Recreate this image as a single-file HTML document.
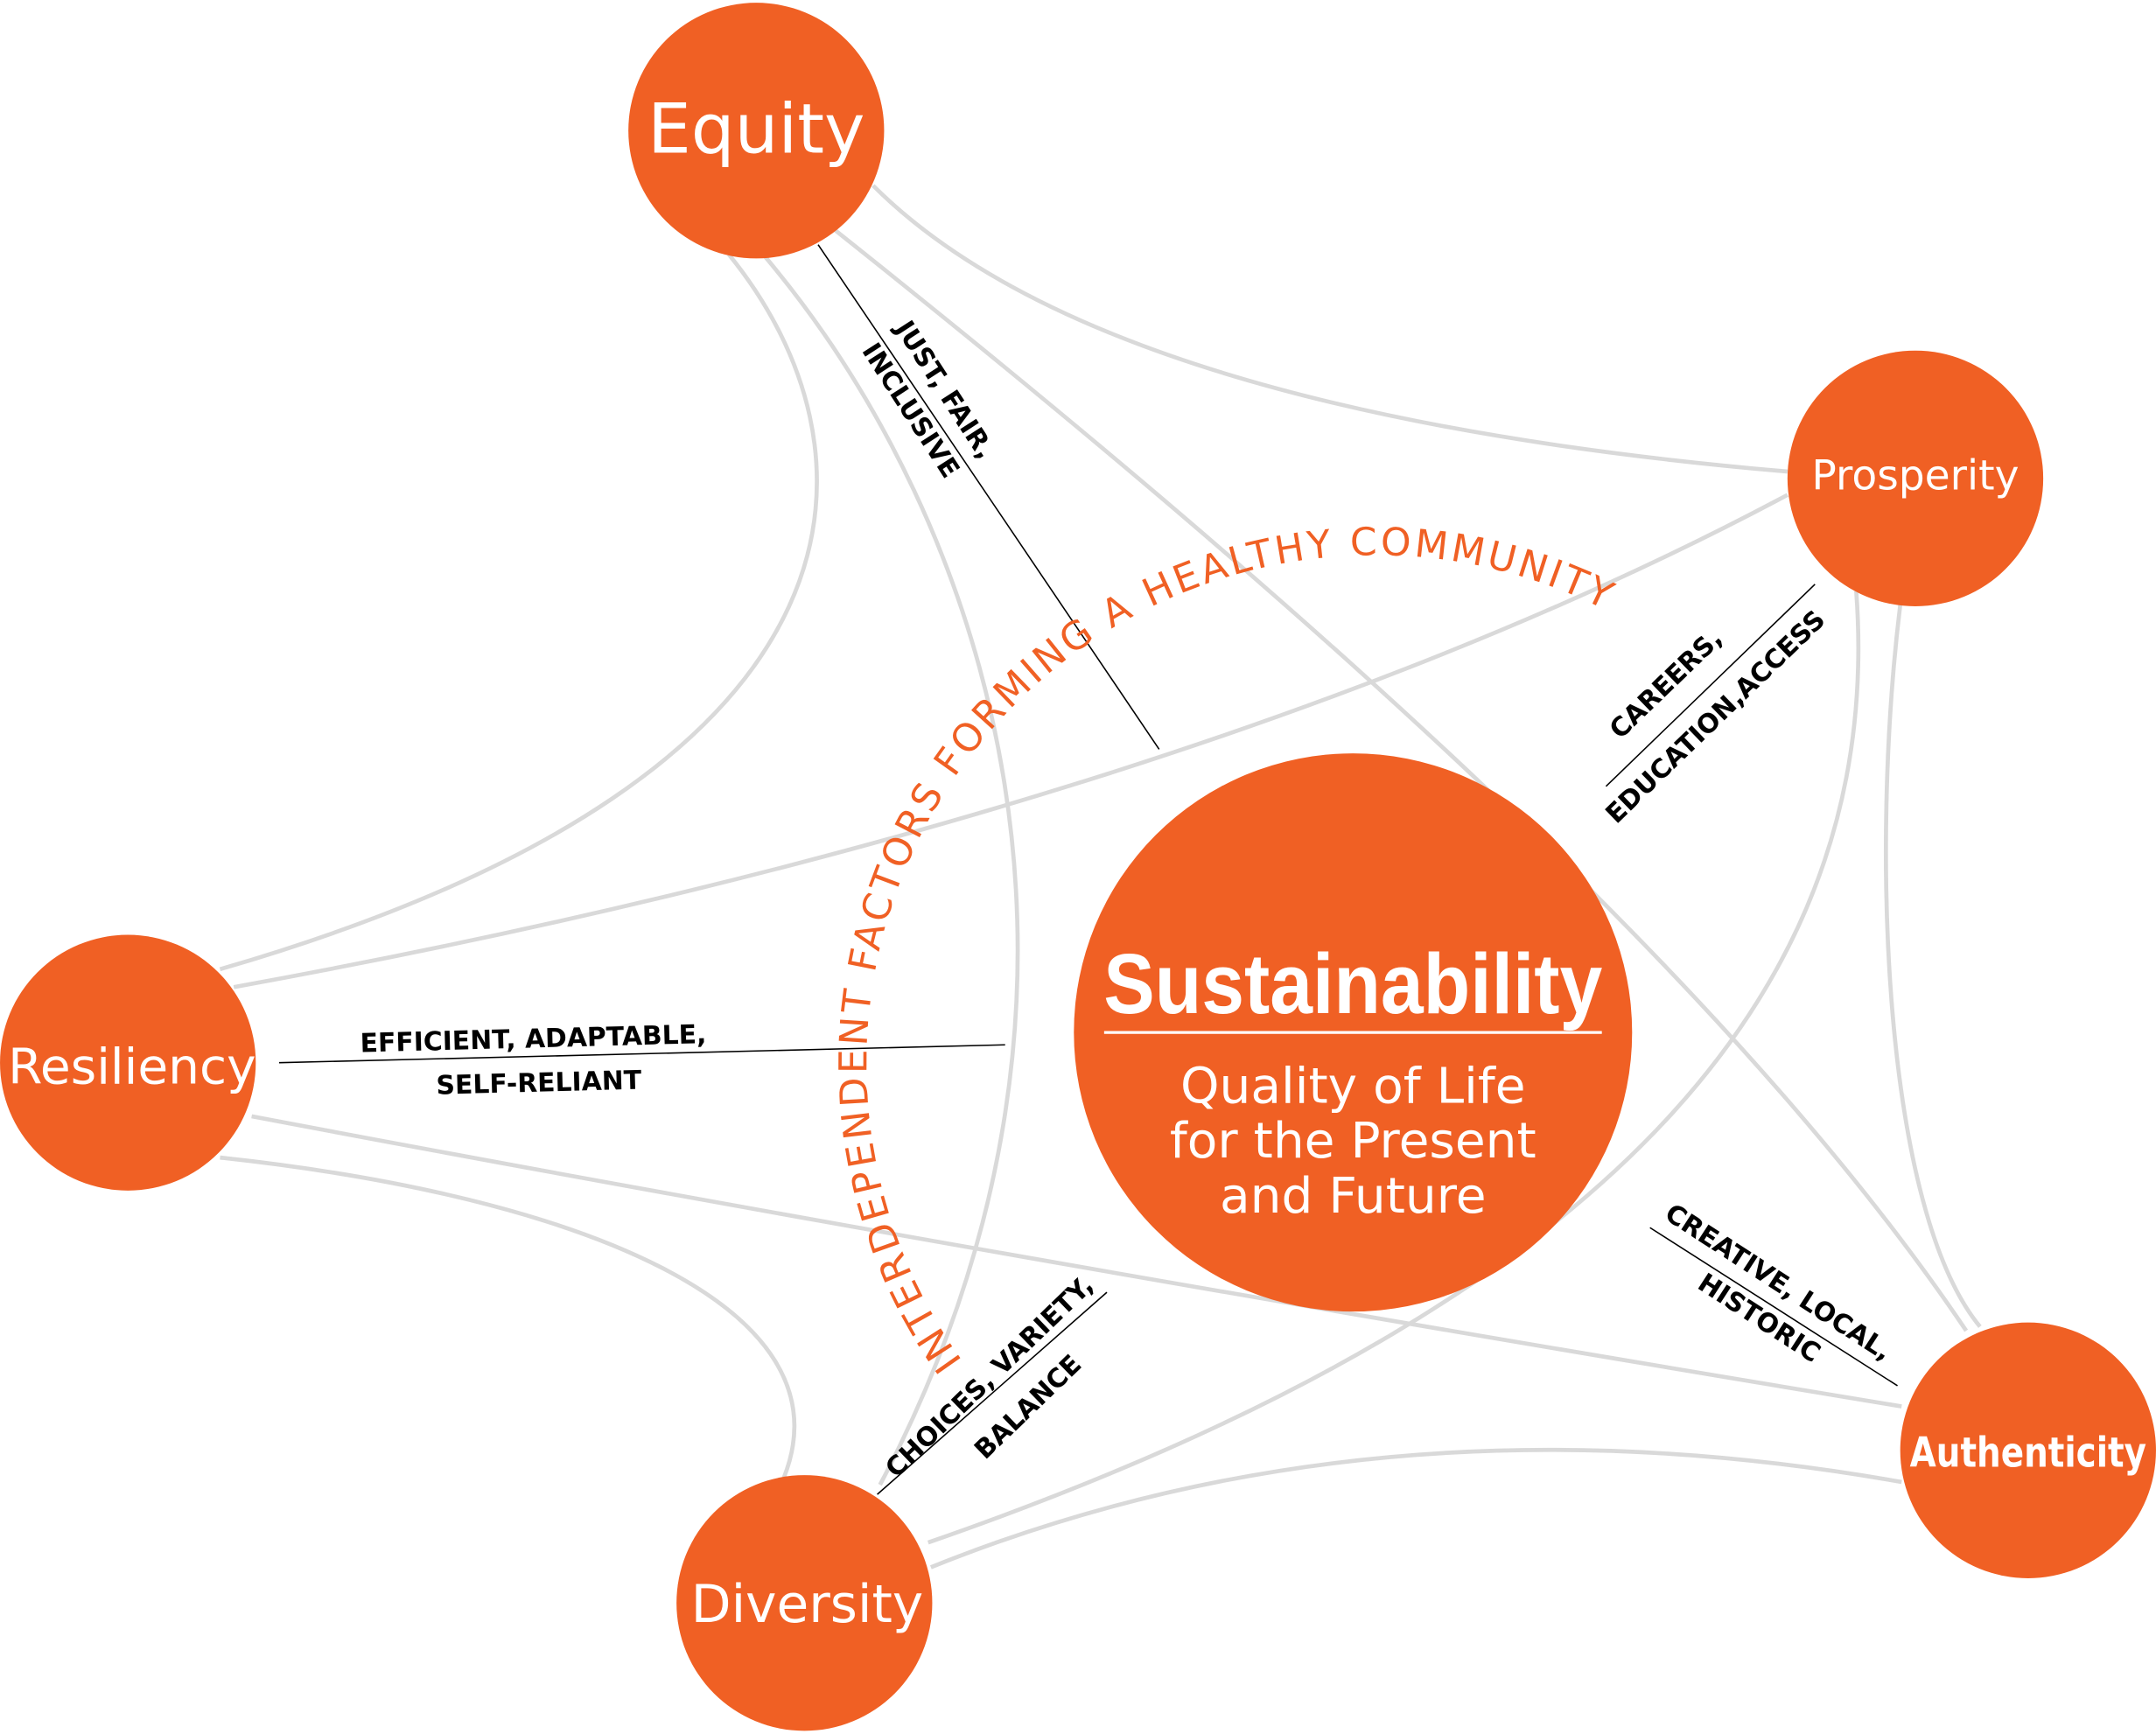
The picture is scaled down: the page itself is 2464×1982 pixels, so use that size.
<!DOCTYPE html>
<html><head><meta charset="utf-8"><style>
html,body{margin:0;padding:0;background:#fff;}
svg{display:block;}
</style></head><body>
<svg width="2464" height="1982" viewBox="0 0 1568 1261.3" xmlns="http://www.w3.org/2000/svg">
<g fill="none" stroke="#d9d9d9" stroke-width="3">
<path d="M635,135 Q800,300 1300,343"/>
<path d="M598,160 C900,400 1250,700 1430,968"/>
<path d="M530,185 C640,320 660,560 160,705"/>
<path d="M555,185 C720,380 830,720 640,1080"/>
<path d="M1300,360 C1000,520 600,640 170,718"/>
<path d="M1350,430 C1370,700 1200,940 675,1122"/>
<path d="M1382,440 C1360,620 1370,880 1440,965"/>
<path d="M183,812 Q700,910 1383,1023"/>
<path d="M160,842 C420,870 620,950 570,1075"/>
<path d="M677,1140 Q1000,1010 1383,1078"/>
</g>
<g stroke="#000" stroke-width="1">
<line x1="595" y1="178" x2="843" y2="545"/>
<line x1="203" y1="773" x2="731" y2="760"/>
<line x1="638" y1="1087" x2="805" y2="940"/>
<line x1="1168" y1="572" x2="1320" y2="425"/>
<line x1="1200" y1="893" x2="1380" y2="1008"/>
</g>
<g fill="#f06024">
<circle cx="550" cy="95" r="93"/>
<circle cx="1393" cy="348" r="93"/>
<circle cx="93" cy="773" r="93"/>
<circle cx="585" cy="1166" r="93"/>
<circle cx="1475" cy="1055" r="93"/>
<circle cx="984" cy="751" r="203"/>
</g>
<g fill="#fff" font-family="'DejaVu Sans','Liberation Sans',sans-serif" text-anchor="middle">
<text x="550" y="111" font-size="50">Equity</text>
<text x="1393" y="356" font-size="30">Prosperity</text>
<text x="96" y="788" font-size="36">Resiliency</text>
<text x="587" y="1180" font-size="38">Diversity</text>
<text x="1475" y="1067" font-size="30" font-weight="bold" font-family="'DejaVu Sans Condensed','DejaVu Sans',sans-serif" textLength="172" lengthAdjust="spacingAndGlyphs">Authenticity</text>
<text x="984" y="737" font-size="62" font-weight="bold" font-family="'Liberation Sans',sans-serif" transform="translate(984,0) scale(0.9,1) translate(-984,0)">Sustainability</text>
<text x="984" y="802" font-size="36">Quality of Life</text>
<text x="984" y="842" font-size="36">for the Present</text>
<text x="984" y="882" font-size="36">and Future</text>
</g>
<line x1="803" y1="751" x2="1165" y2="751" stroke="#fff" stroke-width="2"/>
<g font-family="'DejaVu Sans','Liberation Sans',sans-serif" font-weight="bold" font-size="19" fill="#000" text-anchor="middle">
<text transform="translate(682,287) rotate(57)">JUST, FAIR,</text>
<text transform="translate(657,302) rotate(57)">INCLUSIVE</text>
<text transform="translate(388,762) rotate(-1.5)">EFFICIENT, ADAPTABLE,</text>
<text transform="translate(392,794) rotate(-1.5)">SELF-RELIANT</text>
<text transform="translate(724,1006) rotate(-44)">CHOICES, VARIETY,</text>
<text transform="translate(752,1028) rotate(-44)">BALANCE</text>
<text transform="translate(1216,502) rotate(-44)">CAREERS,</text>
<text transform="translate(1252,526) rotate(-44)">EDUCATION,ACCESS</text>
<text transform="translate(1290,938) rotate(33)">CREATIVE, LOCAL,</text>
<text transform="translate(1276,964) rotate(33)">HISTORIC</text>
</g>
<defs><path id="arc" d="M700,990 A370,370 0 0 1 1160,440"/></defs>
<text font-family="'DejaVu Sans','Liberation Sans',sans-serif" font-size="28" fill="#f06024"><textPath href="#arc" textLength="985" lengthAdjust="spacing">INTERDEPENDENT FACTORS FORMING A HEALTHY COMMUNITY</textPath></text>
</svg>
</body></html>
